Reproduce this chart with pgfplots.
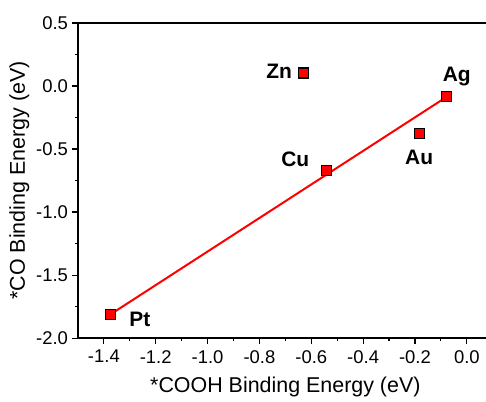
\documentclass[border=0pt]{standalone}
\usepackage{pgfplots}
\pgfplotsset{compat=1.18}
\usepackage{fontspec}
\setmainfont{Liberation Sans}

\definecolor{ptred}{RGB}{255,0,0}

\begin{document}
\begin{tikzpicture}
\begin{axis}[
  scale only axis,
  width=414.6bp, height=315bp,
  xmin=-1.5, xmax=0.1,
  ymin=-2.0, ymax=0.5,
  xtick={-1.4,-1.2,-1.0,-0.8,-0.6,-0.4,-0.2,0.0},
  ytick={-2.0,-1.5,-1.0,-0.5,0.0,0.5},
  minor x tick num=1,
  minor y tick num=1,
  xtick pos=bottom, ytick pos=left,
  tick align=outside,
  major tick length=5.5bp, minor tick length=3bp,
  every tick/.style={black, line width=1.2bp},
  axis line style={line width=1.8bp},
  /pgf/number format/assume math mode=true,
  /pgf/number format/fixed,
  /pgf/number format/fixed zerofill,
  /pgf/number format/precision=1,
  x tick label style={font=\fontsize{18.5}{21}\selectfont, yshift=-3bp},
  y tick label style={font=\fontsize{18.5}{21}\selectfont, xshift=-1bp},
  xlabel={*COOH Binding Energy (eV)},
  ylabel={*CO Binding Energy (eV)},
  xlabel style={font=\fontsize{21.5}{24}\selectfont, yshift=-7bp},
  ylabel style={font=\fontsize{21.5}{24}\selectfont, yshift=0bp},
  clip=false,
]
% linear fit through the scaling relation
\addplot[ptred, line width=2bp] coordinates {(-1.375,-1.812) (-0.077,-0.085)};
% metals
\addplot[only marks, mark=square*, mark size=5bp,
  mark options={fill=ptred, draw=black, line width=1.2bp}]
  coordinates {
    (-1.375,-1.812)
    (-0.540,-0.672)
    (-0.630,0.103)
    (-0.183,-0.375)
    (-0.077,-0.085)
  };
\begin{scope}[every node/.style={font=\fontsize{21}{24}\selectfont\bfseries, anchor=base}]
\node at (axis cs:-1.261,-1.910) {Pt};
\node at (axis cs:-0.662,-0.640) {Cu};
\node at (axis cs:-0.724,0.061) {Zn};
\node at (axis cs:-0.184,-0.619) {Au};
\node at (axis cs:-0.039,0.034) {Ag};
\end{scope}
\coordinate (bbsw) at (axis cs:-1.8007,-2.5);
\coordinate (bbne) at (axis cs:0.074,0.6825);
\end{axis}
\pgfresetboundingbox
\path[use as bounding box] (bbsw) rectangle (bbne);
\end{tikzpicture}
\end{document}
